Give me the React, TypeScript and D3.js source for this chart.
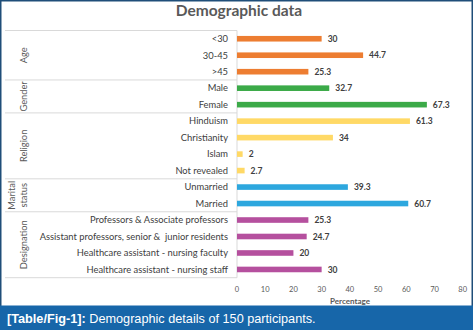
import React from 'react';
import * as d3 from 'd3';

const categories = [
  '<30', '30-45', '>45',
  'Male', 'Female',
  'Hinduism', 'Christianity', 'Islam', 'Not revealed',
  'Unmarried', 'Married',
  'Professors & Associate professors',
  'Assistant professors, senior &  junior residents',
  'Healthcare assistant - nursing faculty',
  'Healthcare assistant - nursing staff',
];
const values = [30, 44.7, 25.3, 32.7, 67.3, 61.3, 34, 2, 2.7, 39.3, 60.7, 25.3, 24.7, 20, 30];
const groups = ['Age', 'Gender', 'Religion', 'Marital status', 'Designation'];
const groupSizes = [3, 2, 4, 2, 4];
const groupColors = ['#ED7D31', '#3BAA48', '#FFD966', '#2DA7DE', '#B5509E'];
const xTicks = [0, 10, 20, 30, 40, 50, 60, 70, 80];

const W = 473;
const H = 330;
const FONT = 'Lato, "Open Sans", sans-serif';

export default function App() {
  const x = d3.scaleLinear().domain([0, 80]).range([237, 462.7]);
  const y = d3.scaleBand<string>().domain(categories).range([30.5, 277.7]).paddingInner(0.66).paddingOuter(0.33);
  const step = y.step();
  const groupOf: number[] = [];
  groupSizes.forEach((n, gi) => { for (let i = 0; i < n; i++) groupOf.push(gi); });
  const starts: number[] = [];
  let acc = 0;
  groupSizes.forEach((n) => { starts.push(acc); acc += n; });
  const bandTop = (i: number) => (y(categories[i]) as number) - (step - y.bandwidth()) / 2;

  return (
    <svg width={W} height={H} style={{ position: 'absolute', left: 0, top: 0 }} fontFamily={FONT}>
      <rect x={0} y={0} width={W} height={H} fill="#fff" />
      <rect x={0.75} y={0.75} width={W - 1.5} height={H - 1.5} fill="none" stroke="#1F4E79" strokeWidth={1.5} />
      <text x={239} y={16} textAnchor="middle" fontSize={15.5} fontWeight={700} fill="#595959">Demographic data</text>

      {starts.map((s, gi) => (
        <line key={'sep' + gi} x1={5} x2={x(0)} y1={bandTop(s)} y2={bandTop(s)} stroke="#D9D9D9" strokeWidth={1} />
      ))}
      <line x1={5} x2={x(0)} y1={277.7} y2={277.7} stroke="#D9D9D9" strokeWidth={1} />
      <line x1={x(0)} x2={x(0)} y1={30.5} y2={277.7} stroke="#D9D9D9" strokeWidth={1} />

      {groups.map((g, gi) => {
        const top = bandTop(starts[gi]);
        const bottom = top + groupSizes[gi] * step;
        const cy = (top + bottom) / 2;
        const parts = g === 'Marital status' ? ['Marital', 'status'] : [g];
        return parts.map((p, pi) => {
          const cx = parts.length === 1 ? 24 : 12 + pi * 11.5;
          return (
            <text key={g + pi} transform={`translate(${cx + 3.2},${cy}) rotate(-90)`} textAnchor="middle"
              fontSize={9.3} fill="#595959">{p}</text>
          );
        });
      })}

      {categories.map((c, i) => (
        <text key={'c' + i} x={228} y={(y(c) as number) + y.bandwidth() / 2 + 3.3} textAnchor="end"
          fontSize={9.35} fill="#404040" style={{ whiteSpace: 'pre' }}>{c}</text>
      ))}

      {categories.map((c, i) => (
        <rect key={'b' + i} x={x(0)} y={y(c) as number} width={x(values[i]) - x(0)} height={y.bandwidth()}
          fill={groupColors[groupOf[i]]} />
      ))}
      {categories.map((c, i) => (
        <text key={'v' + i} x={x(values[i]) + 6} y={(y(c) as number) + y.bandwidth() / 2 + 3.2}
          fontSize={8.5} fontWeight={700} fill="#404040">{values[i]}</text>
      ))}

      {xTicks.map((t) => (
        <text key={'t' + t} x={x(t)} y={292} textAnchor="middle" fontSize={7.5} fill="#595959">{t}</text>
      ))}
      <text x={350} y={304} textAnchor="middle" fontSize={8} fontWeight={700} fill="#595959">Percentage</text>

      <rect x={0} y={305.5} width={W} height={H - 305.5} fill="#1766A9" />
      <text x={7} y={322.5} fontFamily='"Liberation Sans", Arial, sans-serif' fontSize={12.7} fill="#fff">
        <tspan fontWeight={700}>[Table/Fig-1]:</tspan>
        <tspan> Demographic details of 150 participants.</tspan>
      </text>
    </svg>
  );
}
